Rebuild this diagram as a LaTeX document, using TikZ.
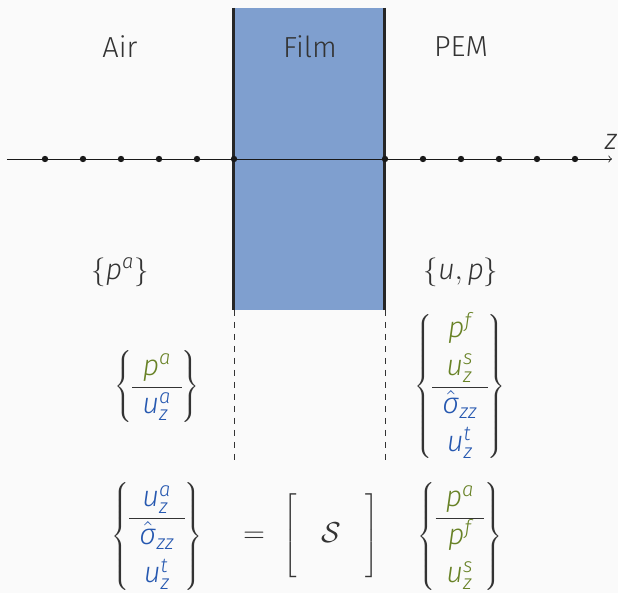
\documentclass[tikz,border=0pt]{standalone}
\usepackage{mathspec}
\setmainfont{Fira Sans Light}
\setmathsfont(Digits,Latin,Greek){Fira Sans Light}
\usepackage{tikz}
\definecolor{bgpaper}{RGB}{250,250,250}
\definecolor{filmblue}{RGB}{127,159,207}
\definecolor{inkgray}{RGB}{51,51,51}
\definecolor{vargreen}{RGB}{104,130,38}
\definecolor{varblue}{RGB}{38,88,176}
\newcommand{\gv}[1]{{\color{vargreen}#1}}
\newcommand{\bv}[1]{{\color{varblue}#1}}
\renewcommand{\arraystretch}{1.08}

\begin{document}
\begin{tikzpicture}[x=0.5pt,y=-0.5pt,every node/.style={text=inkgray,font=\fontsize{14.5}{17.4}\selectfont}]
\useasboundingbox (0,0) rectangle (618,593);
\fill[bgpaper] (0,0) rectangle (618,593);   % paper
\fill[filmblue] (234,8) rectangle (385,310);   % film layer
\draw[line width=1.5pt, black!85] (234,8) -- (234,310);
\draw[line width=1.5pt, black!85] (385,8) -- (385,310);
\draw[dashed, black!80] (234,310) -- (234,462);
\draw[dashed, black!80] (385,310) -- (385,462);
\coordinate (zstart) at (7,159);
\coordinate (zend) at (612,159);
\draw[->, black!90] (zstart) -- (zend);
\node (zlab) at (611,142) {$z$};
\foreach \x [count=\i] in {45,83,121,159,197,234,385,423,461,499,537,575}
  \fill[black!90] (\x,159) circle (3.2) coordinate (pt\i);
\node (air) at (120,47) {Air};
\node (film) at (310,47) {Film};
\node (pem) at (461,47) {PEM};
\node (airset) at (120,272) {$\{p^a\}$};
\node (pemset) at (461,272) {$\{u,p\}$};
\node (airvec) at (157,387) {$\left\{\begin{array}{c}\gv{p^a}\\\hline\bv{u_z^a}\end{array}\right\}$};
\node (pemvec) at (460,387) {$\left\{\begin{array}{c}\gv{p^f}\\\gv{u_z^s}\\\hline\bv{\hat{\sigma}_{zz}}\\\bv{u_z^t}\end{array}\right\}$};
\node (lhs) at (157,537) {$\left\{\begin{array}{c}\bv{u_z^a}\\\hline\bv{\hat{\sigma}_{zz}}\\\bv{u_z^t}\end{array}\right\}$};
\node (eq) at (254,537) {$=$};
\node (smat) at (331,536) {$\left[\vphantom{\rule[-18pt]{0pt}{36pt}}\hspace{0.85em}\mathcal{S}\hspace{0.85em}\right]$};
\node (rhs) at (460,537) {$\left\{\begin{array}{c}\gv{p^a}\\\hline\gv{p^f}\\\gv{u_z^s}\end{array}\right\}$};
\end{tikzpicture}
\end{document}
